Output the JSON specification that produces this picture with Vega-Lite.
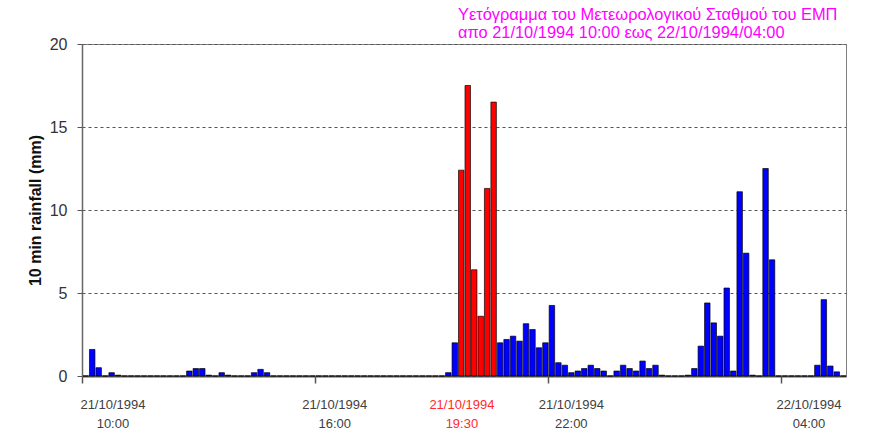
{
  "$schema": "https://vega.github.io/schema/vega-lite/v6.json",
  "width": 764,
  "height": 332,
  "autosize": "none",
  "padding": {"left": 82, "top": 44, "right": 32, "bottom": 65},
  "background": "white",
  "config": {
    "view": {"stroke": "#808080", "strokeWidth": 1},
    "font": "Liberation Sans"
  },
  "title": {
    "text": ["Υετόγραμμα του Μετεωρολογικού Σταθμού του ΕΜΠ", "απο 21/10/1994 10:00 εως 22/10/1994/04:00"],
    "anchor": "start",
    "frame": "group",
    "dx": 376,
    "offset": -21,
    "baseline": "bottom",
    "align": "left",
    "font": "Liberation Sans",
    "fontSize": 16.4,
    "fontWeight": "normal",
    "color": "#ff00ff",
    "lineHeight": 18
  },
  "data": {
    "values": [
      {"t": 0, "mm": 0, "burst": "no"},
      {"t": 10, "mm": 1.6, "burst": "no"},
      {"t": 20, "mm": 0.5, "burst": "no"},
      {"t": 30, "mm": 0, "burst": "no"},
      {"t": 40, "mm": 0.2, "burst": "no"},
      {"t": 50, "mm": 0.05, "burst": "no"},
      {"t": 60, "mm": 0, "burst": "no"},
      {"t": 70, "mm": 0, "burst": "no"},
      {"t": 80, "mm": 0, "burst": "no"},
      {"t": 90, "mm": 0, "burst": "no"},
      {"t": 100, "mm": 0, "burst": "no"},
      {"t": 110, "mm": 0, "burst": "no"},
      {"t": 120, "mm": 0, "burst": "no"},
      {"t": 130, "mm": 0, "burst": "no"},
      {"t": 140, "mm": 0, "burst": "no"},
      {"t": 150, "mm": 0, "burst": "no"},
      {"t": 160, "mm": 0.3, "burst": "no"},
      {"t": 170, "mm": 0.45, "burst": "no"},
      {"t": 180, "mm": 0.45, "burst": "no"},
      {"t": 190, "mm": 0.05, "burst": "no"},
      {"t": 200, "mm": 0, "burst": "no"},
      {"t": 210, "mm": 0.2, "burst": "no"},
      {"t": 220, "mm": 0.05, "burst": "no"},
      {"t": 230, "mm": 0, "burst": "no"},
      {"t": 240, "mm": 0, "burst": "no"},
      {"t": 250, "mm": 0, "burst": "no"},
      {"t": 260, "mm": 0.2, "burst": "no"},
      {"t": 270, "mm": 0.4, "burst": "no"},
      {"t": 280, "mm": 0.2, "burst": "no"},
      {"t": 290, "mm": 0, "burst": "no"},
      {"t": 300, "mm": 0, "burst": "no"},
      {"t": 310, "mm": 0, "burst": "no"},
      {"t": 320, "mm": 0, "burst": "no"},
      {"t": 330, "mm": 0, "burst": "no"},
      {"t": 340, "mm": 0, "burst": "no"},
      {"t": 350, "mm": 0, "burst": "no"},
      {"t": 360, "mm": 0, "burst": "no"},
      {"t": 370, "mm": 0, "burst": "no"},
      {"t": 380, "mm": 0, "burst": "no"},
      {"t": 390, "mm": 0, "burst": "no"},
      {"t": 400, "mm": 0, "burst": "no"},
      {"t": 410, "mm": 0, "burst": "no"},
      {"t": 420, "mm": 0, "burst": "no"},
      {"t": 430, "mm": 0, "burst": "no"},
      {"t": 440, "mm": 0, "burst": "no"},
      {"t": 450, "mm": 0, "burst": "no"},
      {"t": 460, "mm": 0, "burst": "no"},
      {"t": 470, "mm": 0, "burst": "no"},
      {"t": 480, "mm": 0, "burst": "no"},
      {"t": 490, "mm": 0, "burst": "no"},
      {"t": 500, "mm": 0, "burst": "no"},
      {"t": 510, "mm": 0, "burst": "no"},
      {"t": 520, "mm": 0, "burst": "no"},
      {"t": 530, "mm": 0, "burst": "no"},
      {"t": 540, "mm": 0, "burst": "no"},
      {"t": 550, "mm": 0, "burst": "no"},
      {"t": 560, "mm": 0.2, "burst": "no"},
      {"t": 570, "mm": 2.0, "burst": "no"},
      {"t": 580, "mm": 12.4, "burst": "yes"},
      {"t": 590, "mm": 17.5, "burst": "yes"},
      {"t": 600, "mm": 6.4, "burst": "yes"},
      {"t": 610, "mm": 3.6, "burst": "yes"},
      {"t": 620, "mm": 11.3, "burst": "yes"},
      {"t": 630, "mm": 16.5, "burst": "yes"},
      {"t": 640, "mm": 2.0, "burst": "no"},
      {"t": 650, "mm": 2.2, "burst": "no"},
      {"t": 660, "mm": 2.4, "burst": "no"},
      {"t": 670, "mm": 2.1, "burst": "no"},
      {"t": 680, "mm": 3.15, "burst": "no"},
      {"t": 690, "mm": 2.8, "burst": "no"},
      {"t": 700, "mm": 1.7, "burst": "no"},
      {"t": 710, "mm": 2.0, "burst": "no"},
      {"t": 720, "mm": 4.25, "burst": "no"},
      {"t": 730, "mm": 0.8, "burst": "no"},
      {"t": 740, "mm": 0.65, "burst": "no"},
      {"t": 750, "mm": 0.2, "burst": "no"},
      {"t": 760, "mm": 0.3, "burst": "no"},
      {"t": 770, "mm": 0.45, "burst": "no"},
      {"t": 780, "mm": 0.65, "burst": "no"},
      {"t": 790, "mm": 0.45, "burst": "no"},
      {"t": 800, "mm": 0.3, "burst": "no"},
      {"t": 810, "mm": 0, "burst": "no"},
      {"t": 820, "mm": 0.3, "burst": "no"},
      {"t": 830, "mm": 0.65, "burst": "no"},
      {"t": 840, "mm": 0.45, "burst": "no"},
      {"t": 850, "mm": 0.3, "burst": "no"},
      {"t": 860, "mm": 0.9, "burst": "no"},
      {"t": 870, "mm": 0.45, "burst": "no"},
      {"t": 880, "mm": 0.65, "burst": "no"},
      {"t": 890, "mm": 0.05, "burst": "no"},
      {"t": 900, "mm": 0, "burst": "no"},
      {"t": 910, "mm": 0, "burst": "no"},
      {"t": 920, "mm": 0, "burst": "no"},
      {"t": 930, "mm": 0.05, "burst": "no"},
      {"t": 940, "mm": 0.45, "burst": "no"},
      {"t": 950, "mm": 1.8, "burst": "no"},
      {"t": 960, "mm": 4.4, "burst": "no"},
      {"t": 970, "mm": 3.2, "burst": "no"},
      {"t": 980, "mm": 2.4, "burst": "no"},
      {"t": 990, "mm": 5.3, "burst": "no"},
      {"t": 1000, "mm": 0.3, "burst": "no"},
      {"t": 1010, "mm": 11.1, "burst": "no"},
      {"t": 1020, "mm": 7.4, "burst": "no"},
      {"t": 1030, "mm": 0.05, "burst": "no"},
      {"t": 1040, "mm": 0, "burst": "no"},
      {"t": 1050, "mm": 12.5, "burst": "no"},
      {"t": 1060, "mm": 7.0, "burst": "no"},
      {"t": 1070, "mm": 0, "burst": "no"},
      {"t": 1080, "mm": 0, "burst": "no"},
      {"t": 1090, "mm": 0, "burst": "no"},
      {"t": 1100, "mm": 0, "burst": "no"},
      {"t": 1110, "mm": 0, "burst": "no"},
      {"t": 1120, "mm": 0, "burst": "no"},
      {"t": 1130, "mm": 0.65, "burst": "no"},
      {"t": 1140, "mm": 4.6, "burst": "no"},
      {"t": 1150, "mm": 0.6, "burst": "no"},
      {"t": 1160, "mm": 0.25, "burst": "no"},
      {"t": 1170, "mm": 0, "burst": "no"}
    ]
  },
  "mark": {"type": "bar", "stroke": "#000000", "strokeWidth": 0.8, "strokeOpacity": 0.85},
  "encoding": {
    "x": {
      "field": "t",
      "type": "quantitative",
      "bin": {"step": 10, "extent": [0, 1180]},
      "scale": {"domain": [0, 1180], "nice": false, "zero": false},
      "axis": {
        "title": null,
        "grid": false,
        "values": [0, 47, 360, 389.5, 586, 720, 755, 1080, 1122],
        "labelExpr": "datum.value == 47 ? ['21/10/1994','10:00'] : datum.value == 389.5 ? ['21/10/1994','16:00'] : datum.value == 586 ? ['21/10/1994','19:30'] : datum.value == 755 ? ['21/10/1994','22:00'] : datum.value == 1122 ? ['22/10/1994','04:00'] : ''",
        "labelOverlap": false,
        "labelBound": false,
        "labelFlush": false,
        "labelFont": "Liberation Sans",
        "labelFontSize": 13,
        "labelLineHeight": 19,
        "labelPadding": 15,
        "labelColor": {"condition": {"test": "datum.value == 586", "value": "#ff2a2a"}, "value": "#404040"},
        "tickSize": 7,
        "tickColor": "#555555",
        "tickWidth": 1.5,
        "tickOpacity": {"condition": {"test": "indexof([0,360,720,1080], datum.value) < 0", "value": 0}, "value": 1},
        "domainColor": "#555555",
        "domainWidth": 2
      }
    },
    "y": {
      "field": "mm",
      "type": "quantitative",
      "scale": {"domain": [0, 20], "nice": false},
      "axis": {
        "title": "10 min rainfall (mm)",
        "titleFont": "Liberation Sans",
        "titleFontSize": 16,
        "titleFontWeight": "bold",
        "titleColor": "#111111",
        "titlePadding": 6,
        "values": [0, 5, 10, 15, 20],
        "labelFont": "Liberation Sans",
        "labelFontSize": 16,
        "labelColor": "#333333",
        "labelPadding": 10,
        "tickSize": 5,
        "tickColor": "#555555",
        "domainColor": "#666666",
        "domainWidth": 1.5,
        "grid": true,
        "gridColor": "#555555",
        "gridDash": [3, 3],
        "gridWidth": 1
      }
    },
    "color": {
      "field": "burst",
      "type": "nominal",
      "scale": {"domain": ["no", "yes"], "range": ["#0000ff", "#ff0000"]},
      "legend": null
    }
  }
}
